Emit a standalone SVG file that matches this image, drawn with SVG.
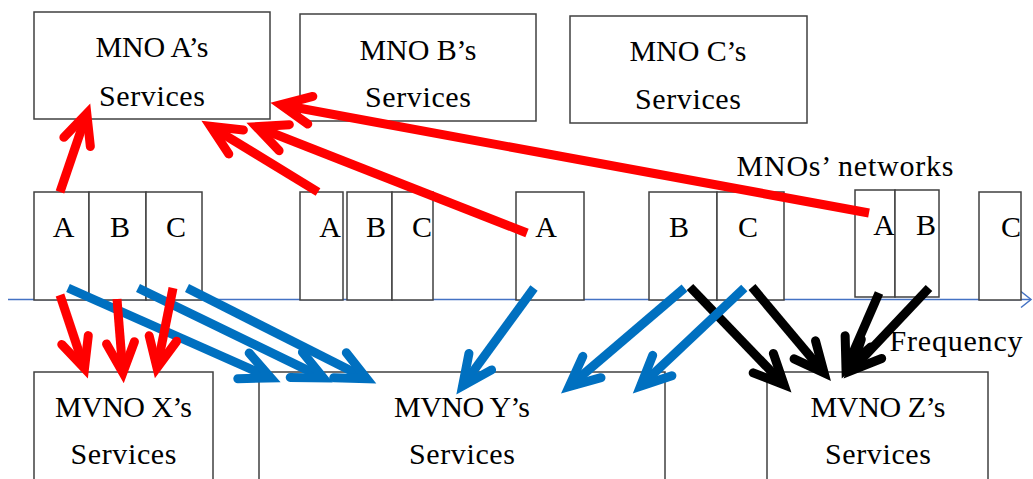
<svg xmlns="http://www.w3.org/2000/svg" width="1033" height="479" viewBox="0 0 1033 479">
<style>
.box{fill:#fff;stroke:#404040;stroke-width:1.5}
.t{font-family:"Liberation Serif","Times New Roman",serif;font-size:30px;fill:#000;text-anchor:middle}
.red{stroke:#FF0000;stroke-width:9;fill:none;marker-end:url(#hr)}
.blue{stroke:#0070C0;stroke-width:9;fill:none;marker-end:url(#hb)}
.black{stroke:#000;stroke-width:9;fill:none;marker-end:url(#hk)}
</style>
<defs>
<marker id="hr" markerUnits="userSpaceOnUse" orient="auto" viewBox="-45 -25 60 50" markerWidth="60" markerHeight="50" refX="0" refY="0"><path d="M-30,-14 L0,0 L-30,14" fill="none" stroke="#FF0000" stroke-width="9" stroke-linecap="round" stroke-linejoin="miter"/></marker>
<marker id="hb" markerUnits="userSpaceOnUse" orient="auto" viewBox="-45 -25 60 50" markerWidth="60" markerHeight="50" refX="0" refY="0"><path d="M-30,-14 L0,0 L-30,14" fill="none" stroke="#0070C0" stroke-width="9" stroke-linecap="round" stroke-linejoin="miter"/></marker>
<marker id="hk" markerUnits="userSpaceOnUse" orient="auto" viewBox="-45 -25 60 50" markerWidth="60" markerHeight="50" refX="0" refY="0"><path d="M-30,-14 L0,0 L-30,14" fill="none" stroke="#000" stroke-width="9" stroke-linecap="round" stroke-linejoin="miter"/></marker>
<marker id="ha" markerUnits="userSpaceOnUse" orient="auto" viewBox="-15 -10 20 20" markerWidth="20" markerHeight="20" refX="0" refY="0"><path d="M-10,-8 L0,0 L-10,8" fill="none" stroke="#4472C4" stroke-width="1.5"/></marker>
</defs>
<rect width="1033" height="479" fill="#fff"/>

<g id="axis">
<line x1="8" y1="299.5" x2="1031" y2="299.5" stroke="#4472C4" stroke-width="1.5" marker-end="url(#ha)"/>
<text class="t" x="956" y="351" textLength="133" lengthAdjust="spacing">Frequency</text>
</g>

<g id="mno-a"><rect class="box" x="34" y="12" width="236" height="107"/><text class="t" x="152" y="57" textLength="113" lengthAdjust="spacing">MNO A’s</text><text class="t" x="152" y="106" textLength="106" lengthAdjust="spacing">Services</text></g>
<g id="mno-b"><rect class="box" x="300" y="14" width="236" height="107"/><text class="t" x="418" y="60" textLength="117" lengthAdjust="spacing">MNO B’s</text><text class="t" x="418" y="107" textLength="106" lengthAdjust="spacing">Services</text></g>
<g id="mno-c"><rect class="box" x="570" y="16" width="237" height="107"/><text class="t" x="688" y="61" textLength="117" lengthAdjust="spacing">MNO C’s</text><text class="t" x="688" y="109" textLength="106" lengthAdjust="spacing">Services</text></g>

<g id="networks-label"><text class="t" x="845" y="176" textLength="217" lengthAdjust="spacing">MNOs’ networks</text></g>

<g id="g1-a"><rect class="box" x="34" y="192" width="55" height="108"/><text class="t" x="63.5" y="237">A</text></g>
<g id="g1-b"><rect class="box" x="89" y="192" width="57" height="108"/><text class="t" x="120" y="237">B</text></g>
<g id="g1-c"><rect class="box" x="146" y="192" width="56" height="108"/><text class="t" x="176" y="237">C</text></g>
<g id="g2-a"><rect class="box" x="300" y="192" width="43" height="108"/><text class="t" x="330" y="237">A</text></g>
<g id="g2-b"><rect class="box" x="347" y="192" width="45" height="108"/><text class="t" x="376" y="237">B</text></g>
<g id="g2-c"><rect class="box" x="392" y="192" width="41" height="108"/><text class="t" x="422" y="237">C</text></g>
<g id="g3-a"><rect class="box" x="516" y="192" width="68" height="108"/><text class="t" x="546" y="237">A</text></g>
<g id="g3-b"><rect class="box" x="649" y="192" width="68" height="108"/><text class="t" x="679" y="237">B</text></g>
<g id="g3-c"><rect class="box" x="717" y="192" width="67" height="108"/><text class="t" x="748" y="237">C</text></g>
<g id="g4-a"><rect class="box" x="855" y="190" width="40" height="107"/><text class="t" x="884" y="235">A</text></g>
<g id="g4-b"><rect class="box" x="895" y="190" width="44" height="107"/><text class="t" x="926" y="235">B</text></g>
<g id="g4-c"><rect class="box" x="979" y="192" width="42" height="108"/><text class="t" x="1011" y="237">C</text></g>

<g id="mvno-x"><rect class="box" x="34" y="372" width="179" height="130"/><text class="t" x="123.5" y="417" textLength="137" lengthAdjust="spacing">MVNO X’s</text><text class="t" x="123.5" y="464" textLength="106" lengthAdjust="spacing">Services</text></g>
<g id="mvno-y"><rect class="box" x="259" y="372" width="406" height="130"/><text class="t" x="462" y="417" textLength="136" lengthAdjust="spacing">MVNO Y’s</text><text class="t" x="462" y="464" textLength="106" lengthAdjust="spacing">Services</text></g>
<g id="mvno-z"><rect class="box" x="767" y="372" width="221" height="130"/><text class="t" x="878" y="417" textLength="135" lengthAdjust="spacing">MVNO Z’s</text><text class="t" x="878" y="464" textLength="106" lengthAdjust="spacing">Services</text></g>

<g id="connectors">
<line class="black" x1="690" y1="287" x2="784.1" y2="384.8"/>
<line class="black" x1="752" y1="287" x2="824.1" y2="372.8"/>
<line class="black" x1="879" y1="293" x2="846" y2="368.8"/>
<line class="black" x1="929" y1="288" x2="850.9" y2="370.7"/>
<line class="blue" x1="68" y1="288" x2="270.9" y2="378"/>
<line class="blue" x1="138" y1="288" x2="323.3" y2="377.9"/>
<line class="blue" x1="187" y1="288" x2="366.8" y2="378.8"/>
<line class="blue" x1="534" y1="288" x2="462.6" y2="385.9"/>
<line class="blue" x1="684.5" y1="288" x2="569.1" y2="386.5"/>
<line class="blue" x1="744.3" y1="288" x2="640.5" y2="386.1"/>
<line class="red" x1="60" y1="295" x2="84.5" y2="368.5"/>
<line class="red" x1="117" y1="299" x2="122.9" y2="372.7"/>
<line class="red" x1="173" y1="288" x2="157" y2="367.9"/>
<line class="red" x1="60" y1="192" x2="86.8" y2="113.5"/>
<line class="red" x1="318" y1="192" x2="210.5" y2="126.3"/>
<line class="red" x1="527" y1="233" x2="256.3" y2="126.7"/>
<line class="red" x1="869" y1="213" x2="280.8" y2="104.8"/>
</g>
</svg>
